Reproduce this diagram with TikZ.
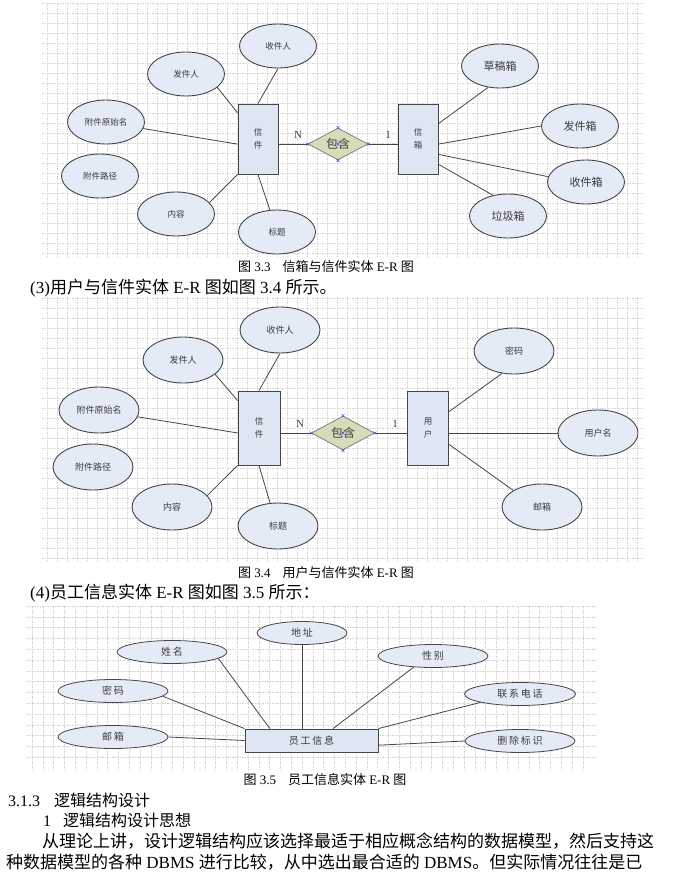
\documentclass[tikz,border=0pt]{standalone}
\usepackage{fontspec}
\setmainfont{Liberation Serif}
\newfontfamily\cjk{Noto Sans CJK SC}
\newfontfamily\cjksp{Noto Sans CJK SC}[LetterSpace=18]
\usetikzlibrary{shapes.geometric}
\definecolor{shuxing}{RGB}{228,234,246}
\definecolor{shiti}{RGB}{222,229,243}
\definecolor{lianxi}{RGB}{214,219,186}
\definecolor{wangge}{RGB}{210,210,210}
\definecolor{bian}{RGB}{70,70,70}
\definecolor{zi}{RGB}{60,60,60}
\begin{document}
\begin{tikzpicture}[x=1pt,y=-1pt]
		\tikzstyle{every node}=[inner sep=0pt]
		\tikzstyle{wg}=[draw=wangge, line width=0.5pt, dash pattern=on 1.5pt off 1pt]
		\tikzstyle{lj}=[draw=bian, line width=0.8pt]
		\tikzstyle{sx}=[ellipse, draw=bian, fill=shuxing, line width=0.9pt, text=zi, minimum width=77pt, minimum height=44pt, font=\cjk\fontsize{8.5pt}{10pt}\selectfont]
		\tikzstyle{sxb}=[sx, font=\cjk\fontsize{11pt}{13pt}\selectfont]
		\tikzstyle{sx2}=[sx, minimum width=80pt, minimum height=46pt, font=\cjk\fontsize{9pt}{11pt}\selectfont]
		\tikzstyle{sx3}=[ellipse, draw=bian, fill=shuxing, line width=0.8pt, text=zi, minimum width=110pt, minimum height=23pt, font=\cjksp\fontsize{10pt}{12pt}\selectfont]
		\tikzstyle{st}=[rectangle, draw=bian, fill=shiti, line width=0.9pt, text=zi, align=center, minimum width=40pt, minimum height=70pt, font=\cjk\fontsize{8.5pt}{13pt}\selectfont]
		\tikzstyle{st3}=[st, minimum width=133pt, minimum height=23pt, font=\cjksp\fontsize{10pt}{12pt}\selectfont]
		\tikzstyle{lx}=[diamond, draw=gray, fill=lianxi, line width=0.8pt, text=zi, aspect=1.9, minimum width=60pt, minimum height=32pt, font=\cjk\fontsize{12pt}{14pt}\selectfont]
		\tikzstyle{bj}=[draw=blue!70, line width=0.5pt]
		\tikzstyle{dz}=[text=zi, font=\fontsize{11pt}{13pt}\selectfont]
		\tikzstyle{tm}=[font=\fontsize{13pt}{15pt}\selectfont]
		\tikzstyle{zw}=[anchor=west, font=\fontsize{17pt}{20pt}\selectfont]
		
		\useasboundingbox (0,0) rectangle (678,873);
		
		\foreach \y in {3,13,...,253} \draw[wg] (42,\y) -- (643,\y);
		\foreach \x in {47,57,...,637} \draw[wg] (\x,3) -- (\x,256);
		\foreach \y in {298,308,...,558} \draw[wg] (42,\y) -- (643,\y);
		\foreach \x in {47,57,...,637} \draw[wg] (\x,297) -- (\x,562);
		\foreach \y in {606,616.8,...,766} \draw[wg] (27,\y) -- (595,\y);
		\foreach \x in {32,42.8,...,592} \draw[wg] (\x,606) -- (\x,769);
		
		\node[sx] (sjr1) at (278,46) {收件人};
		\node[sx] (fjr1) at (186,74) {发件人};
		\node[sx] (ysm1) at (106,122) {附件原始名};
		\node[sx] (ljz1) at (100,176) {附件路径};
		\node[sx] (nr1) at (176,214) {内容};
		\node[sx] (bt1) at (277,232) {标题};
		\node[st] (xj1) at (258,139) {信\\件};
		\node[lx] (bh1) at (338,144) {包含};
		\node[st] (xx1) at (418,139) {信\\箱};
		\node[sxb] (cgx) at (500,66) {草稿箱};
		\node[sxb] (fjx) at (580,126) {发件箱};
		\node[sxb] (sjx) at (586,182) {收件箱};
		\node[sxb] (ljx) at (508,216) {垃圾箱};
		\node[dz] (n1) at (298,135) {N};
		\node[dz] (y1) at (388,135) {1};
		
		\draw[lj] (xj1.north) -- (sjr1.south);
		\draw[lj] (xj1.128) -- (fjr1.337);
		\draw[lj] (xj1.194) -- (ysm1.350);
		\draw[lj] (xj1.south west) -- (nr1.19);
		\draw[lj] (xj1.south) -- (bt1.108);
		\draw[lj] (xj1.east |- bh1.west) -- (bh1.west);
		\draw[lj] (bh1.east) -- (xx1.west |- bh1.east);
		\draw[lj] (xx1.37) -- (cgx.241);
		\draw[lj] (xx1.346) -- (fjx.west);
		\draw[lj] (xx1.323) -- (sjx.172);
		\draw[lj] (xx1.309) -- (ljx.126);
		\foreach \a in {west,east,north,south,center}
			\draw[bj] ([shift={(-1.5,-1.5)}]bh1.\a) -- ++(3,3) ([shift={(-1.5,1.5)}]bh1.\a) -- ++(3,-3);
		
		\node[tm] (tu33) at (326,267) {{\cjk 图}~3.3\hspace{12pt}{\cjk 信箱与信件实体}~E-R~{\cjk 图}};
		\node[zw] (hang3) at (30,288) {(3){\cjk 用户与信件实体}~E-R~{\cjk 图如图}~3.4~{\cjk 所示。}};
		
		\node[sx2] (sjr2) at (280,330) {收件人};
		\node[sx2] (fjr2) at (183,360) {发件人};
		\node[sx2] (ysm2) at (99,410) {附件原始名};
		\node[sx2] (ljz2) at (93,467) {附件路径};
		\node[sx2] (nr2) at (172,507) {内容};
		\node[sx2] (bt2) at (278,526) {标题};
		\node[st, minimum width=42pt, minimum height=74pt] (xj2) at (259,428) {信\\件};
		\node[lx, minimum width=63pt, minimum height=34pt] (bh2) at (343,433) {包含};
		\node[st, minimum width=41pt, minimum height=74pt] (yh2) at (428,428) {用\\户};
		\node[sx2] (mm2) at (514,351) {密码};
		\node[sx2] (yhm2) at (598,433) {用户名};
		\node[sx2] (yx2) at (542,507) {邮箱};
		\node[dz] (n2) at (300,424) {N};
		\node[dz] (y2) at (395,424) {1};
		
		\draw[lj] (xj2.north) -- (sjr2.south);
		\draw[lj] (xj2.128) -- (fjr2.336);
		\draw[lj] (xj2.193) -- (ysm2.350);
		\draw[lj] (xj2.south west) -- (nr2.18);
		\draw[lj] (xj2.south) -- (bt2.109);
		\draw[lj] (xj2.east |- bh2.west) -- (bh2.west);
		\draw[lj] (bh2.east) -- (yh2.west |- bh2.east);
		\draw[lj] (yh2.38) -- (mm2.242);
		\draw[lj] (yh2.east |- yhm2.west) -- (yhm2.west);
		\draw[lj] (yh2.322) -- (yx2.150);
		\foreach \a in {west,east,north,south,center}
			\draw[bj] ([shift={(-1.5,-1.5)}]bh2.\a) -- ++(3,3) ([shift={(-1.5,1.5)}]bh2.\a) -- ++(3,-3);
		
		\node[tm] (tu34) at (326,573) {{\cjk 图}~3.4\hspace{12pt}{\cjk 用户与信件实体}~E-R~{\cjk 图}};
		\node[zw] (hang4) at (30,593) {(4){\cjk 员工信息实体}~E-R~{\cjk 图如图}~3.5~{\cjk 所示：}};
		
		\node[sx3, minimum width=90pt] (dizhi) at (302,633) {地址};
		\node[sx3] (xm) at (172,652) {姓名};
		\node[sx3] (mm3) at (113,691) {密码};
		\node[sx3] (yx3) at (113,737) {邮箱};
		\node[st3] (ygxx) at (311.5,740.5) {员工信息};
		\node[sx3] (xb) at (433,656) {性别};
		\node[sx3, minimum width=111pt] (lxdh) at (520,694) {联系电话};
		\node[sx3] (scbs) at (520,741) {删除标识};
		
		\draw[lj] (dizhi.south) -- (dizhi.south |- ygxx.north);
		\draw[lj] (xm.352) -- (ygxx.164);
		\draw[lj] (mm3.354) -- (ygxx.north west);
		\draw[lj] (yx3.east) -- (ygxx.west);
		\draw[lj] (xb.210) -- (ygxx.29);
		\draw[lj] (lxdh.192) -- (ygxx.north east);
		\draw[lj] (scbs.west) -- (ygxx.356);
		
		\node[tm] (tu35) at (325,780) {{\cjk 图}~3.5\hspace{12pt}{\cjk 员工信息实体}~E-R~{\cjk 图}};
		\node[zw, font=\fontsize{16pt}{19pt}\selectfont] (biaoti) at (8,800) {3.1.3\hspace{14pt}{\cjk 逻辑结构设计}};
		\node[zw, font=\fontsize{16pt}{19pt}\selectfont] (xiaoti) at (43,820) {1\hspace{12pt}{\cjk 逻辑结构设计思想}};
		\node[zw] (duan1) at (42,841) {{\cjk 从理论上讲，设计逻辑结构应该选择最适于相应概念结构的数据模型，然后支持这}};
		\node[zw] (duan2) at (6,862) {{\cjk 种数据模型的各种}~DBMS~{\cjk 进行比较，从中选出最合适的}~DBMS{\cjk 。但实际情况往往是已}};
		
	\end{tikzpicture}
\end{document}
